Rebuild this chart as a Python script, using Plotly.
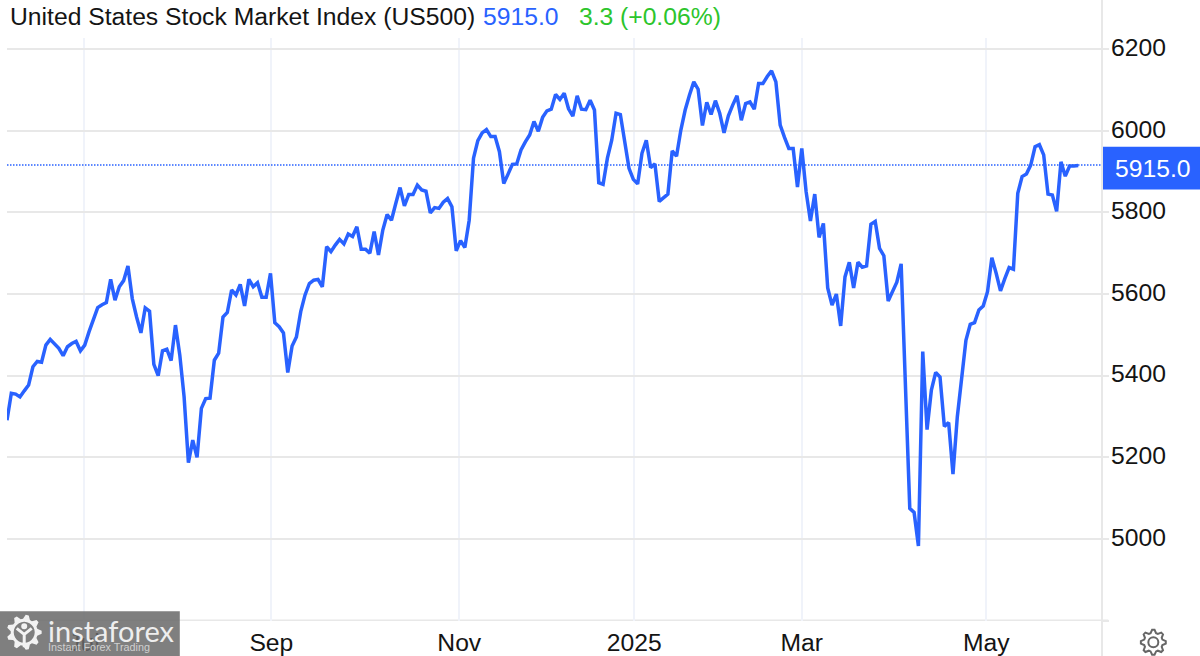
import math
import plotly.graph_objects as go

# ---- data -----------------------------------------------------------------
close_values = [
5291,5357,5355,5348,5363,5377,5422,5435,5433,5475,5489,5477,5467,5449,5471,5479,5484,5461,5475,5508,
5538,5567,5574,5579,5636,5585,5618,5633,5669,5589,5544,5505,5566,5558,5428,5400,5461,5465,5437,5524,
5451,5348,5187,5242,5200,5320,5344,5345,5438,5455,5544,5555,5610,5598,5624,5571,5636,5618,5628,5592,
5592,5651,5530,5520,5505,5408,5473,5495,5557,5598,5626,5634,5636,5618,5716,5704,5720,5734,5723,5747,
5741,5765,5710,5710,5700,5753,5696,5757,5795,5781,5822,5861,5816,5844,5844,5867,5855,5852,5799,5812,
5810,5825,5834,5814,5706,5731,5714,5781,5933,5976,5995,6003,5986,5986,5949,5871,5894,5918,5919,5953,
5973,5990,6023,5999,6033,6049,6053,6089,6077,6092,6054,6036,6086,6053,6052,6075,6051,5873,5869,5933,
5977,6043,6040,5969,5908,5881,5870,5945,5977,5910,5919,5827,5837,5845,5951,5938,6002,6051,6088,6120,
6102,6013,6070,6040,6074,6043,5995,6037,6063,6086,6026,6067,6071,6053,6116,6116,6133,6147,6120,6014,
5984,5957,5957,5862,5957,5851,5779,5845,5739,5773,5615,5573,5600,5522,5642,5678,5615,5678,5666,5669,
5771,5778,5712,5694,5583,5606,5629,5674,5389,5075,5065,4983,5459,5268,5365,5408,5397,5276,5285,5159,
5299,5389,5487,5526,5530,5561,5571,5606,5689,5651,5608,5638,5665,5661,5847,5888,5894,5916,5961,5966,
5941,5845,5843,5803,5924,5889,5914,5914,5915,
]
sessions = list(range(len(close_values)))

x_tick_sessions = [17.8, 61.2, 104.7, 145.2, 184.0, 226.7]
x_tick_labels = ["Jul", "Sep", "Nov", "2025", "Mar", "May"]
y_tick_values = [4800, 5000, 5200, 5400, 5600, 5800, 6000, 6200]
y_tick_labels = ["", "5000", "5200", "5400", "5600", "5800", "6000", "6200"]
last_price = 5915.0

title_text = "United States Stock Market Index (US500)"
price_text = "5915.0"
change_text = "3.3"
pct_text = "(+0.06%)"

# ---- style ----------------------------------------------------------------
BLUE = "#2962ff"
GREEN = "#2cc52c"
INK = "#141414"
GRID_H = "#e8e8e8"
GRID_V = "#f0f3fa"
FONT = "Liberation Sans"
FS = 24.7

L, R, T, B = 7.3, 1101.7, 38.0, 620.7
W, H = 1200, 656


def fx(px):
    return (px - L) / (R - L)


def fy(py):
    return (B - py) / (B - T)


def gear_path(cx, cy, r_out, r_in, teeth, hole=None):
    pts = []
    n = teeth * 4
    for i in range(n):
        a = 2 * math.pi * (i - 0.5) / n
        r = r_out if i % 4 in (0, 1) else r_in
        pts.append((cx + r * math.cos(a), cy + r * math.sin(a)))
    d = "M" + " L".join(f"{fx(p):.5f},{fy(q):.5f}" for p, q in pts) + " Z"
    if hole:
        pts = [(cx + hole * math.cos(2 * math.pi * i / 24), cy + hole * math.sin(2 * math.pi * i / 24)) for i in range(24)]
        d += " M" + " L".join(f"{fx(p):.5f},{fy(q):.5f}" for p, q in pts) + " Z"
    return d


def text(px, py, s, color, size, anchor="left", family=FONT):
    return dict(xref="paper", yref="paper", x=fx(px), y=fy(py), text=s, showarrow=False,
                xanchor=anchor, yanchor="middle", font=dict(family=family, size=size, color=color),
                borderpad=0, borderwidth=0)


fig = go.Figure()
fig.add_trace(go.Scatter(x=sessions, y=close_values, mode="lines", line=dict(color=BLUE, width=3.5),
                         hoverinfo="skip", showlegend=False))

shapes = [
    dict(type="line", xref="x domain", x0=0, x1=1, yref="y", y0=last_price + 1.5, y1=last_price + 1.5,
         line=dict(color=BLUE, width=1.5, dash="1.5px,1.5px"), layer="above"),
    dict(type="line", xref="paper", x0=1, x1=1, yref="paper", y0=fy(656), y1=fy(0),
         line=dict(color=GRID_H, width=2), layer="below"),
    dict(type="line", xref="paper", x0=0, x1=fx(1108), yref="y", y0=y_tick_values[0], y1=y_tick_values[0],
         line=dict(color=GRID_H, width=2), layer="below"),
    dict(type="rect", xref="paper", yref="paper", x0=fx(1102.7), x1=fx(1200), y0=fy(189.3), y1=fy(146.7),
         fillcolor=BLUE, line=dict(width=0), layer="above"),
    dict(type="rect", xref="paper", yref="paper", x0=fx(0), x1=fx(180), y0=fy(656), y1=fy(611),
         fillcolor="rgba(105,105,105,0.85)", line=dict(width=0), layer="above"),
    # settings gear
    dict(type="path", xref="paper", yref="paper", path=gear_path(1153, 642, 12.5, 9.5, 8),
         line=dict(color="#666666", width=2), layer="above"),
    dict(type="circle", xref="paper", yref="paper", x0=fx(1148), x1=fx(1158), y0=fy(647), y1=fy(637),
         line=dict(color="#666666", width=2), layer="above"),
    # watermark logo
    dict(type="path", xref="paper", yref="paper", path=gear_path(24.5, 632, 17.5, 13.5, 9, hole=10.5),
         fillcolor="#f2f2f2", fillrule="evenodd", line=dict(width=0), layer="above"),
    dict(type="path", xref="paper", yref="paper",
         path=f"M{fx(24.5)},{fy(647)} L{fx(24.5)},{fy(632)} M{fx(17)},{fy(628)} L{fx(24.5)},{fy(634)} L{fx(32)},{fy(628)}",
         line=dict(color="#f2f2f2", width=3), layer="above"),
    dict(type="circle", xref="paper", yref="paper", x0=fx(21.5), x1=fx(27.5), y0=fy(629), y1=fy(623),
         fillcolor="#f2f2f2", line=dict(width=0), layer="above"),
]

annotations = [
    text(10.5, 17, title_text, INK, FS),
    text(483, 17, price_text, BLUE, FS),
    text(579, 17, change_text, GREEN, FS),
    text(620, 17, pct_text, GREEN, FS),
    text(1115, 168.5, price_text, "#ffffff", FS),
    text(48, 630.5, "instaforex", "#eeeeee", 29, family="Lato"),
    text(48, 647, "Instant Forex Trading", "#cfcfcf", 10.8),
]

fig.update_layout(
    width=W, height=H, autosize=False,
    paper_bgcolor="#ffffff", plot_bgcolor="#ffffff",
    margin=dict(l=L, r=W - R, t=T, b=H - B, pad=0, autoexpand=False),
    showlegend=False, shapes=shapes, annotations=annotations,
    font=dict(family=FONT, color=INK, size=FS),
    xaxis=dict(range=[0, 253.5], tickmode="array", tickvals=x_tick_sessions, ticktext=x_tick_labels,
               showgrid=True, gridcolor=GRID_V, gridwidth=2, zeroline=False, showline=False,
               ticks="", tickangle=0, tickfont=dict(size=FS, color=INK), ticklabelstandoff=4),
    yaxis=dict(range=[4799, 6227.5], side="right", tickmode="array", tickvals=y_tick_values,
               ticktext=y_tick_labels, showgrid=True, gridcolor=GRID_H, gridwidth=2, zeroline=False,
               showline=False, ticks="outside", ticklen=6, tickcolor=GRID_H, tickwidth=2,
               tickfont=dict(size=FS, color=INK), ticklabelstandoff=-3, ticklabelshift=-2),
)

fig.write_html("out.html", config={"displayModeBar": False},
               post_script="document.body.style.margin='0';document.documentElement.style.overflow='hidden';")
